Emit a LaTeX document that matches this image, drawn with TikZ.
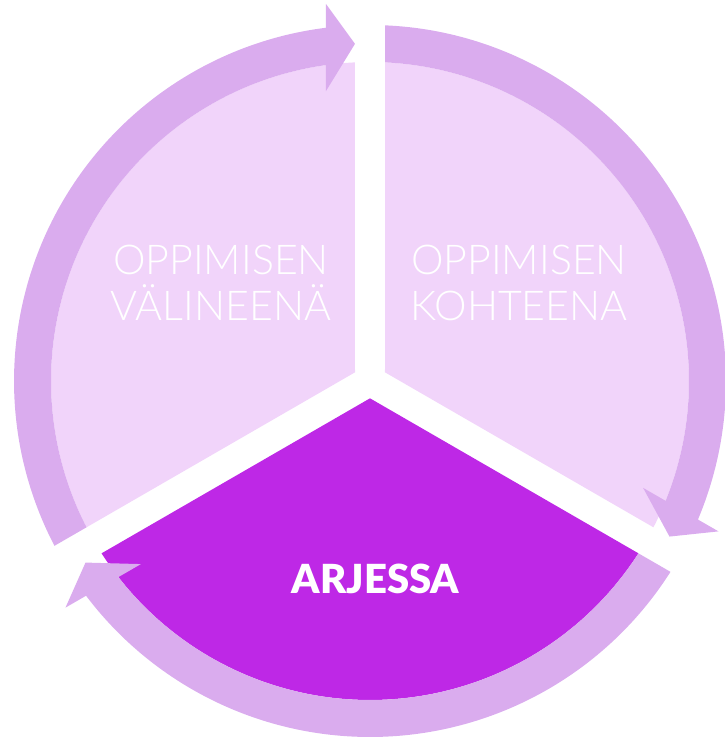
\documentclass[tikz,border=0pt]{standalone}
\usepackage{fontspec}
\setmainfont{Lato}
\newfontfamily\thinsans{Lato Light}
\newfontfamily\heavysans{Lato Black}
\definecolor{palepurple}{RGB}{241,212,250}
\definecolor{ringpurple}{RGB}{218,172,238}
\definecolor{darkpurple}{RGB}{190,40,230}

\begin{document}
\begin{tikzpicture}[x=0.02cm, y=0.02cm]
        \tikzstyle{ring}=[fill=ringpurple]
        \tikzstyle{thintext}=[text=white, align=center, font=\thinsans\fontsize{23.4}{26}\selectfont]
        \tikzstyle{boldtext}=[text=white, font=\heavysans\fontsize{22.8}{26}\selectfont]

        \useasboundingbox (-370,-359) rectangle (354,381);

        % sectors
        \fill[palepurple] (150:17.32) -- (92.70:319) arc[start angle=92.70, end angle=207.30, radius=319] -- cycle;
        \begin{scope}[rotate=-120]
            \fill[palepurple] (150:17.32) -- (92.70:319) arc[start angle=92.70, end angle=207.30, radius=319] -- cycle;
        \end{scope}
        \begin{scope}[rotate=120]
            \fill[darkpurple] (150:17.32) -- (92.70:319) arc[start angle=92.70, end angle=207.30, radius=319] -- cycle;
        \end{scope}

        % arrows round the circle
        \fill[ring] (207.30:319) -- (207.58:356) arc[start angle=207.58, end angle=97.10, radius=356] -- (96.66:379.6) -- (92.55:337.5) -- (98.63:293.3) -- (97.93:319) arc[start angle=97.93, end angle=207.30, radius=319] -- cycle;
        \begin{scope}[rotate=-120]
            \fill[ring] (207.30:319) -- (207.58:356) arc[start angle=207.58, end angle=97.10, radius=356] -- (96.66:379.6) -- (92.55:337.5) -- (98.63:293.3) -- (97.93:319) arc[start angle=97.93, end angle=207.30, radius=319] -- cycle;
        \end{scope}
        \begin{scope}[rotate=120]
            \fill[ring] (207.30:319) -- (207.58:356) arc[start angle=207.58, end angle=97.10, radius=356] -- (96.66:379.6) -- (92.55:337.5) -- (98.63:293.3) -- (97.93:319) arc[start angle=97.93, end angle=207.30, radius=319] -- cycle;
        \end{scope}

        \node (valineena)[thintext] at (-149,98) {OPPIMISEN\\VÄLINEENÄ};
        \node (kohteena)[thintext] at (149,98) {OPPIMISEN\\KOHTEENA};
        \node (arjessa)[boldtext] at (5.5,-197.5) {ARJESSA};
    \end{tikzpicture}
\end{document}
